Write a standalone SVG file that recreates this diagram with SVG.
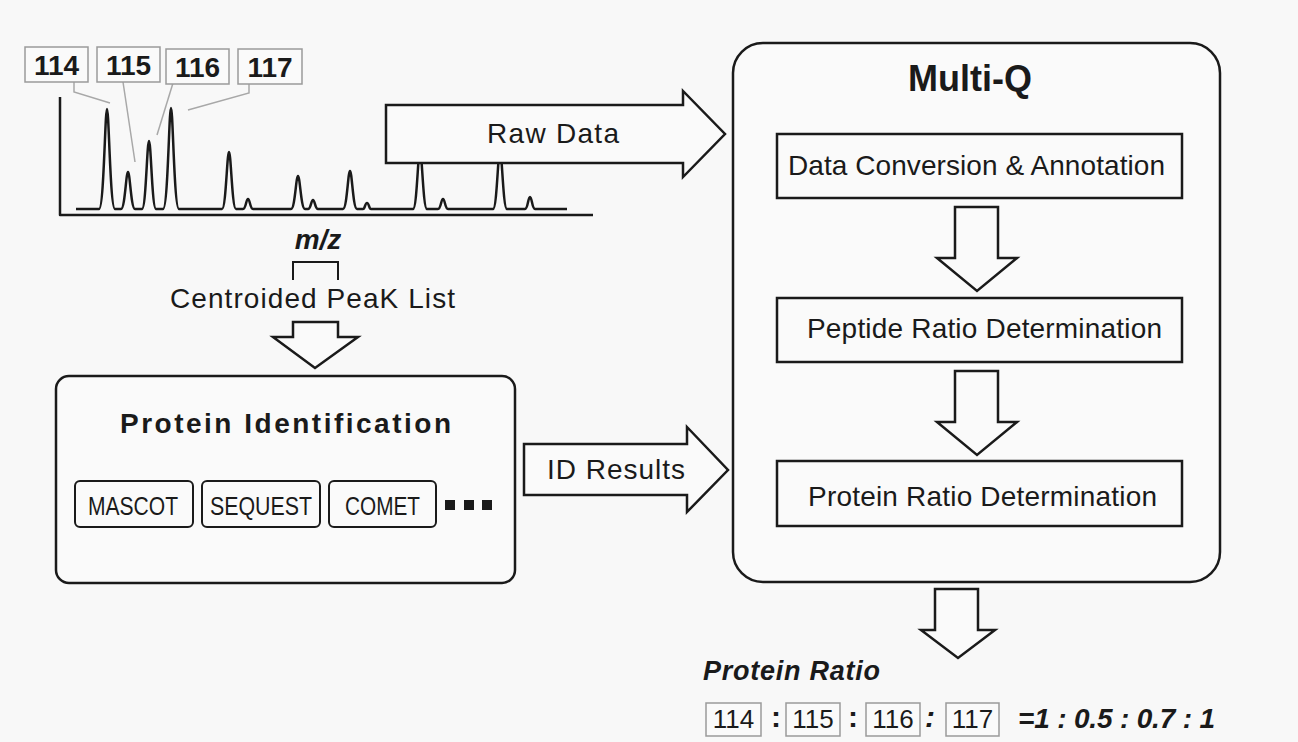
<svg xmlns="http://www.w3.org/2000/svg" width="1298" height="742" viewBox="0 0 1298 742">
<style>
  .t{font-family:"Liberation Sans",Arial,sans-serif;fill:#1a1a1a}
  .b{font-weight:bold}
  .bi{font-weight:bold;font-style:italic}
  .box{fill:#fafafa;stroke:#1a1a1a;stroke-width:2.5}
  .arr{fill:#fafafa;stroke:#1a1a1a;stroke-width:2.5;stroke-linejoin:miter}
  .lbl{fill:#fafafa;stroke:#9a9a9a;stroke-width:1.5}
  .lead{fill:none;stroke:#a8a8a8;stroke-width:1.5}
  .spec{fill:none;stroke:#1a1a1a;stroke-width:2.5;stroke-linejoin:round}
</style>
<rect x="0" y="0" width="1298" height="742" fill="#f8f8f8"/>

<g id="spectrum">
  <polyline class="spec" points="60,97 60,215 593,215"/>
  <path class="spec" d="M76,209 L99,209 C104,209 105,109 107,109 C109,109 110,209 115,209
    L121,209 C125,209 126,172 128,172 C130,172 131,209 135,209
    L142,209 C146,209 147,141 149,141 C151,141 152,209 156,209
    L163,209 C168,209 169,108 171,108 C173,108 174,209 179,209
    L222,209 C226,209 227,152 229,152 C231,152 232,209 236,209
    L243,209 C246,209 246,199 248,199 C250,199 250,209 253,209
    L291,209 C295,209 296,176 298,176 C300,176 301,209 305,209
    L308,209 C311,209 311,200 313,200 C315,200 315,209 318,209
    L343,209 C347,209 348,171 350,171 C352,171 353,209 357,209
    L363,209 C365,209 365,203 367,203 C369,203 369,209 371,209
    L413,209 C417,209 418,150 420,150 C422,150 423,209 427,209
    L438,209 C441,209 441,199 443,199 C445,199 445,209 448,209
    L493,209 C497,209 498,150 500,150 C502,150 503,209 507,209
    L525,209 C528,209 528,197 530,197 C532,197 532,209 535,209 L567,209"/>
  <path class="lead" d="M74,82 L74,92 L110,103"/>
  <path class="lead" d="M123,82 L135,162"/>
  <path class="lead" d="M173,83 L157,135"/>
  <path class="lead" d="M249,84 L249,93 L188,110"/>
  <g id="lbl114"><rect class="lbl" x="25" y="47" width="63" height="35"/><text class="t b" x="56.5" y="75" font-size="28" text-anchor="middle">114</text></g>
  <g id="lbl115"><rect class="lbl" x="97" y="47" width="63" height="35"/><text class="t b" x="128.5" y="75" font-size="28" text-anchor="middle">115</text></g>
  <g id="lbl116"><rect class="lbl" x="166" y="49" width="63" height="35"/><text class="t b" x="197.5" y="77" font-size="28" text-anchor="middle">116</text></g>
  <g id="lbl117"><rect class="lbl" x="238" y="49" width="64" height="35"/><text class="t b" x="270" y="77" font-size="28" text-anchor="middle">117</text></g>
  <text class="t bi" x="318" y="249" font-size="28" text-anchor="middle">m/z</text>
  <polyline fill="none" stroke="#1a1a1a" stroke-width="2" points="293,280 293,262 338,262 338,280"/>
  <text class="t" x="170" y="308" font-size="28" textLength="285">Centroided PeaK List</text>
</g>

<g id="protein-identification">
  <rect class="box" x="56" y="376" width="459" height="207" rx="13"/>
  <text class="t b" x="120" y="433" font-size="28" textLength="331">Protein Identification</text>
  <g id="mascot"><rect class="box" x="75" y="481" width="118" height="46" rx="5" style="stroke-width:2"/><text class="t" x="88" y="515" font-size="26" textLength="90" lengthAdjust="spacingAndGlyphs">MASCOT</text></g>
  <g id="sequest"><rect class="box" x="202" y="481" width="118" height="46" rx="5" style="stroke-width:2"/><text class="t" x="210" y="515" font-size="26" textLength="102" lengthAdjust="spacingAndGlyphs">SEQUEST</text></g>
  <g id="comet"><rect class="box" x="329" y="481" width="107" height="46" rx="5" style="stroke-width:2"/><text class="t" x="345" y="515" font-size="26" textLength="75" lengthAdjust="spacingAndGlyphs">COMET</text></g>
  <rect x="445" y="500" width="10" height="10" fill="#1a1a1a"/>
  <rect x="464" y="500" width="10" height="10" fill="#1a1a1a"/>
  <rect x="482" y="500" width="10" height="10" fill="#1a1a1a"/>
</g>

<g id="multi-q">
  <rect class="box" x="733" y="43" width="487" height="539" rx="30"/>
  <text class="t b" x="970" y="91" font-size="36" text-anchor="middle">Multi-Q</text>
  <g id="data-conversion"><rect class="box" x="777" y="134" width="405" height="64"/><text class="t" x="788" y="175" font-size="28" textLength="377">Data Conversion &amp; Annotation</text></g>
  <g id="peptide-ratio"><rect class="box" x="777" y="298" width="405" height="64"/><text class="t" x="807" y="338" font-size="28" textLength="355">Peptide Ratio Determination</text></g>
  <g id="protein-ratio-det"><rect class="box" x="777" y="461" width="405" height="65"/><text class="t" x="808" y="506" font-size="28" textLength="349">Protein Ratio Determination</text></g>
</g>

<g id="protein-ratio">
  <text class="t bi" x="703" y="680" font-size="27" textLength="177">Protein Ratio</text>
  <rect class="lbl" x="706" y="703" width="55" height="33"/><text class="t" x="733.5" y="728" font-size="26" text-anchor="middle">114</text>
  <text class="t b" x="776" y="727" font-size="30" text-anchor="middle">:</text>
  <rect class="lbl" x="786" y="703" width="54" height="33"/><text class="t" x="813" y="728" font-size="26" text-anchor="middle">115</text>
  <text class="t b" x="853" y="727" font-size="30" text-anchor="middle">:</text>
  <rect class="lbl" x="866" y="703" width="54" height="33"/><text class="t" x="893" y="728" font-size="26" text-anchor="middle">116</text>
  <text class="t bi" x="930" y="727" font-size="30" text-anchor="middle">:</text>
  <rect class="lbl" x="946" y="703" width="53" height="33"/><text class="t" x="972.5" y="728" font-size="26" text-anchor="middle">117</text>
  <text class="t bi" x="1018" y="728" font-size="28" textLength="197">=1 : 0.5 : 0.7 : 1</text>
</g>

<g id="connectors">
  <g id="raw-data">
    <polygon class="arr" points="386,105 683,105 683,91 725,134 683,177 683,163 386,163"/>
    <text class="t" x="553" y="143" font-size="28" text-anchor="middle" textLength="132">Raw Data</text>
  </g>
  <polygon id="peak-list-arrow" class="arr" points="293,322 293,337 273,337 315,368 358,337 338,337 338,322"/>
  <g id="id-results">
    <polygon class="arr" points="524,444 687,444 687,427 728,470 687,512 687,495 524,495"/>
    <text class="t" x="547" y="479" font-size="28" textLength="138">ID Results</text>
  </g>
  <polygon class="arr" points="955,207 998,207 998,258 1017,258 977,291 937,258 955,258"/>
  <polygon class="arr" points="955,371 998,371 998,422 1017,422 977,455 937,422 955,422"/>
  <polygon class="arr" points="935,589 978,589 978,630 995,630 958,658 921,630 935,630"/>
</g>
</svg>
